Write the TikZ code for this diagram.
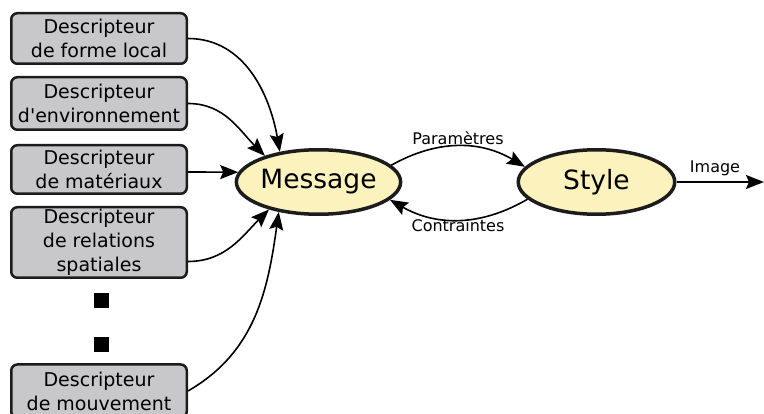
\documentclass[tikz,border=0pt]{standalone}
\usepackage{fontspec}
\setmainfont{DejaVu Sans}
\usetikzlibrary{arrows.meta,shapes.geometric}
\definecolor{descgray}{RGB}{200,200,202}
\definecolor{ellyellow}{RGB}{251,242,189}
\definecolor{edgedark}{RGB}{28,28,28}

\begin{document}
\begin{tikzpicture}[x=1pt,y=-1pt,
  desc/.style={draw=edgedark,line width=2.5pt,fill=descgray,rounded corners=6pt,
    minimum width=175.5pt,align=center,inner sep=0pt,font=\fontsize{19}{24}\selectfont},
  proc/.style={ellipse,draw=edgedark,line width=3.5pt,fill=ellyellow,inner sep=0pt,
    minimum height=64.5pt,font=\fontsize{26.5}{30}\selectfont},
  dotsq/.style={fill=black,minimum size=15pt,inner sep=0pt},
  arr/.style={-{Stealth[length=18pt,width=14pt,inset=3pt]},line width=1.6pt},
  lbl/.style={font=\fontsize{16}{18}\selectfont}]
\useasboundingbox (0,0) rectangle (764,414);
\clip (0,0) rectangle (764,414);
% descripteurs
\node[desc,minimum height=50.5pt] (forme) at (99,38.5) {Descripteur\\de forme local};
\node[desc,minimum height=52.5pt] (envir) at (99,103.5) {Descripteur\\d\textquotesingle environnement};
\node[desc,minimum height=48.5pt] (mater) at (99,169.5) {Descripteur\\de matériaux};
\node[desc,minimum height=70.5pt] (relat) at (99,242.5) {Descripteur\\de relations\\spatiales};
\node[desc,minimum height=53pt] (mouve) at (99,391) {Descripteur\\de mouvement};
\node[dotsq] (dotA) at (101.5,300.5) {};
\node[dotsq] (dotB) at (101.5,345) {};
% message, style
\node[proc,minimum width=159.5pt] (msg) at (318.5,182) {Message};
\node[proc,minimum width=156.5pt] (sty) at (596.5,182) {Style};
\coordinate (out) at (764,182);
\draw[arr] (forme.east) to[out=0,in=100] (msg.142);
\draw[arr] (envir.east) to[out=0,in=135] (msg.154);
\draw[arr] ([yshift=-2.5pt]mater.east) -- (msg.173);
\draw[arr] ([yshift=-19pt]relat.east) to[out=0,in=225] (msg.209);
\draw[arr] (mouve.east) to[out=30,in=262] (msg.217);
\draw[arr] (msg.13) to[bend left=30] (sty.168);
\draw[arr] (sty.194) to[bend left=30] (msg.-14);
\draw[arr] (sty.east) -- (out);
\node[lbl] (lpar) at (458,138) {Paramètres};
\node[lbl] (lcon) at (458,226) {Contraintes};
\node[lbl] (limg) at (715,168) {Image};
\end{tikzpicture}
\end{document}
